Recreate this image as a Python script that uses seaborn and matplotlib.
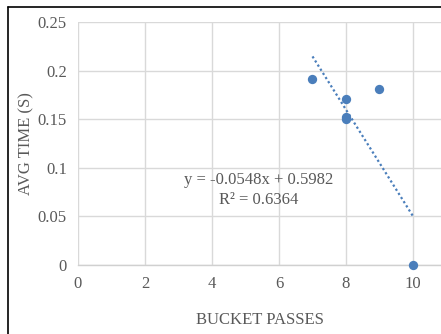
import numpy as np
import pandas as pd
import seaborn as sns
import matplotlib.pyplot as plt
from matplotlib.lines import Line2D

bucket_passes = [7, 8, 8, 8, 9, 10]
avg_time = [0.191, 0.171, 0.152, 0.150, 0.181, 0.0]
slope = -0.0548
intercept = 0.5982
r_squared = 0.6364
x_ticks = [0, 2, 4, 6, 8, 10]
y_ticks = [0, 0.05, 0.1, 0.15, 0.2, 0.25]
y_tick_labels = ["0", "0.05", "0.1", "0.15", "0.2", "0.25"]

sns.set_style("white")
plt.rcParams["font.family"] = ["Liberation Serif", "DejaVu Serif"]

grey = "#595959"
blue = "#4a7ebb"

df = pd.DataFrame({"passes": bucket_passes, "time": avg_time})

fig = plt.figure(figsize=(4.41, 3.34), dpi=100)
ax = fig.add_axes([78 / 441, 1 - 265 / 334, 1 - 78 / 441, (265 - 22) / 334])

ax.set_xlim(0, (441 - 78) / 33.5)
ax.set_ylim(0, 0.25)
ax.set_xticks(x_ticks)
ax.set_yticks(y_ticks)
ax.set_yticklabels(y_tick_labels)
ax.grid(True, color="#d9d9d9", linewidth=1.0)
ax.set_axisbelow(True)
for s in ["top", "right", "left"]:
    ax.spines[s].set_visible(False)
ax.spines["bottom"].set_color("#d0d0d0")
ax.spines["bottom"].set_linewidth(1.0)
ax.tick_params(axis="both", length=0, labelsize=12, labelcolor=grey, pad=8)

# linear trendline from the stated equation
tx = np.array([min(bucket_passes), max(bucket_passes)])
ax.plot(tx, slope * tx + intercept, linestyle=(0, (1, 1.2)), color=blue,
        linewidth=1.6, zorder=2)

sns.scatterplot(data=df, x="passes", y="time", ax=ax, color=blue, s=45,
                edgecolor=blue, linewidth=0, zorder=3, clip_on=False)

ax.set_xlabel("BUCKET PASSES", fontsize=12, color=grey, labelpad=14)
ax.set_ylabel("AVG TIME (S)", fontsize=12, color=grey, labelpad=2)

ax.text(5.4, 0.077, f"y = {slope}x + {intercept}\nR\u00b2 = {r_squared}",
        ha="center", va="center", fontsize=12, color=grey, linespacing=1.3)

# frame lines of the surrounding box
fig.add_artist(Line2D([8 / 441, 8 / 441], [0, 1 - 7 / 334],
                      transform=fig.transFigure, color="black", linewidth=1.2))
fig.add_artist(Line2D([8 / 441, 1], [1 - 7 / 334, 1 - 7 / 334],
                      transform=fig.transFigure, color="black", linewidth=1.2))

fig.savefig("out.png", dpi=100)
